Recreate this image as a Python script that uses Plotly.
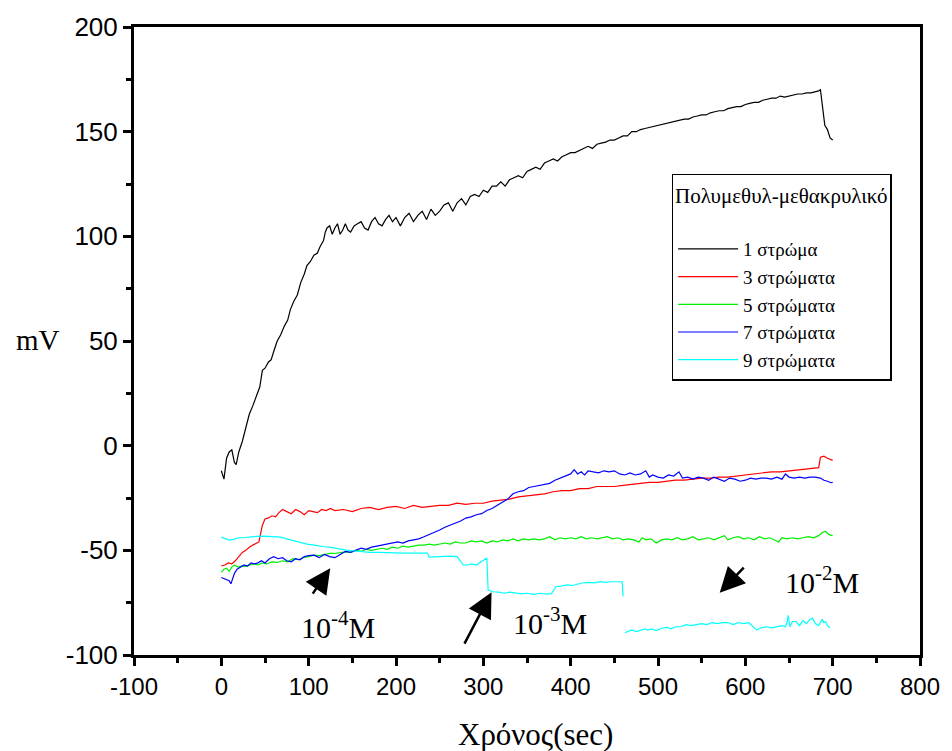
import plotly.graph_objects as go

# ---------------- data ----------------
series_names = ["1 στρώμα", "3 στρώματα", "5 στρώματα", "7 στρώματα", "9 στρώματα"]
series_colors = ["#000000", "#ff0000", "#00ee00", "#0000ff", "#00ffff"]

layer1 = [(0, -12), (3, -16), (6, -6), (9, -3), (12, -2), (15, -8), (17, -9), (20, -3), (24, 2),
          (28, 8), (32, 15), (36, 19), (40, 24), (44, 28), (47, 36), (50, 37), (54, 40), (57, 41),
          (60, 45), (64, 50), (68, 53), (72, 57), (76, 60), (79, 65), (83, 69), (87, 72), (91, 78),
          (95, 82), (98, 86), (102, 88), (106, 91), (110, 92), (113, 95), (117, 98), (119, 102),
          (121, 104), (124, 105), (127, 101), (130, 104), (133, 106), (136, 101), (139, 103),
          (142, 106), (145, 103), (148, 102), (152, 105), (156, 106), (160, 107), (164, 104),
          (168, 103), (172, 107), (176, 109), (180, 106), (184, 105), (188, 108), (192, 110),
          (196, 107), (200, 109), (205, 105), (210, 109), (215, 111), (220, 107), (225, 110),
          (230, 112), (235, 108), (240, 113), (245, 110), (250, 112), (255, 115), (260, 116),
          (265, 112), (270, 116), (275, 118), (280, 115), (285, 119), (290, 120), (295, 119),
          (300, 122), (305, 121), (310, 124), (315, 124), (320, 126), (325, 124), (330, 127),
          (335, 128), (340, 129), (345, 128), (350, 131), (355, 132), (360, 133), (365, 132),
          (370, 135), (375, 136), (380, 137), (385, 136), (390, 138), (395, 139), (400, 140),
          (405, 140), (410, 141), (415, 142), (420, 143), (425, 142), (430, 144), (435, 144.5),
          (440, 145), (445, 146), (450, 146), (455, 147), (460, 148), (465, 148), (470, 150),
          (475, 150), (480, 151), (485, 151.5), (490, 152), (495, 152.5), (500, 153), (505, 153.5),
          (510, 154), (515, 154.5), (520, 155), (525, 155.5), (530, 156), (535, 156), (540, 157),
          (545, 157.5), (550, 158), (555, 158), (560, 159), (565, 159.5), (570, 160), (575, 160),
          (580, 161), (585, 161.5), (590, 162), (595, 162), (600, 163), (605, 163.5), (610, 164),
          (615, 164), (620, 165), (625, 165.5), (630, 166), (635, 166), (640, 167), (645, 166.5),
          (650, 167), (655, 167.5), (660, 168), (665, 168), (670, 168.5), (675, 168.5),
          (680, 169), (684, 169.5), (686, 170), (688, 164), (691, 153), (694, 151), (697, 147),
          (700, 146)]

layer3 = [(0, -57.5), (4, -57), (8, -56), (12, -56.5), (16, -55), (20, -53), (24, -51), (28, -50),
          (32, -48.5), (36, -47.5), (40, -46.5), (43, -46), (45, -42), (47, -38), (50, -35),
          (54, -34.5), (58, -33.5), (62, -34), (66, -32), (70, -30.5), (75, -31.5), (80, -32.5),
          (85, -30.5), (90, -31.5), (95, -33), (100, -31), (105, -31.5), (110, -32), (115, -30.5),
          (120, -31), (125, -30), (130, -31), (140, -30.5), (150, -31.5), (160, -30), (170, -29.5),
          (180, -30.5), (190, -29.5), (200, -29), (210, -30), (220, -28.5), (230, -29.5), (240, -29),
          (250, -28.5), (260, -28.5), (270, -27.5), (280, -28), (290, -27.5), (300, -27.5),
          (310, -26.5), (320, -26), (330, -25.5), (340, -24.5), (350, -24), (360, -23.5), (370, -23),
          (380, -22), (390, -21.5), (400, -21.5), (410, -20.5), (420, -20.5), (430, -19.5),
          (440, -19.5), (450, -19.5), (460, -19), (470, -18.5), (480, -18), (490, -17.5),
          (500, -17.5), (510, -17), (520, -16.5), (530, -16.5), (540, -16), (550, -15.5),
          (560, -15.5), (570, -15), (580, -15), (590, -14.5), (600, -14), (610, -13.5), (620, -13),
          (630, -12.5), (640, -12.5), (650, -12), (660, -11.5), (670, -11), (680, -10.5),
          (684, -10.5), (686, -5.5), (690, -5), (694, -6), (698, -6.5), (700, -7)]

layer5 = [(0, -60.5), (3, -59), (6, -58.5), (9, -60), (12, -58), (15, -57), (19, -58), (23, -57.5),
          (27, -57.8), (32, -57), (37, -56.5), (42, -57), (47, -56), (52, -56.5), (58, -55.5),
          (64, -55.8), (70, -55), (76, -55.5), (82, -54), (88, -54.5), (94, -53.5), (100, -53),
          (106, -52.3), (112, -52.5), (118, -52), (124, -51.5), (130, -51.5), (136, -51),
          (142, -50.7), (148, -51), (154, -50), (160, -50.5), (166, -49.5), (172, -50), (178, -49.5),
          (184, -49), (190, -49.5), (196, -48.5), (202, -49), (208, -48), (214, -48.5), (220, -48),
          (226, -47.5), (232, -47.5), (238, -47), (244, -47.5), (250, -47), (256, -46.5), (262, -47),
          (268, -46), (274, -46.5), (280, -46.5), (286, -45.5), (292, -46), (298, -45.5),
          (304, -46.5), (310, -45.5), (316, -46), (322, -45), (328, -45.5), (334, -44.5),
          (340, -45.5), (346, -44.5), (352, -45), (358, -44.5), (364, -45), (370, -44.5),
          (376, -43.5), (382, -45), (388, -44), (394, -44.5), (400, -44), (406, -44.5),
          (412, -43.5), (418, -44.5), (424, -44), (430, -44.5), (436, -44), (442, -43.5),
          (448, -44.5), (454, -44), (460, -45), (466, -44.5), (472, -45), (478, -46), (482, -44),
          (486, -45), (492, -44.5), (498, -46.5), (504, -45), (510, -44.5), (516, -45), (522, -44),
          (528, -45), (534, -44.5), (540, -43.5), (546, -45), (552, -44.5), (558, -44), (564, -45),
          (570, -44), (576, -43), (580, -45), (586, -44), (592, -43.5), (598, -44.5), (604, -44),
          (610, -45), (616, -43.5), (622, -44.5), (628, -44), (634, -45), (638, -46), (642, -44),
          (648, -44.5), (654, -44), (660, -44.5), (666, -44), (672, -43.5), (678, -44), (684, -43),
          (688, -41.5), (692, -41), (696, -42.5), (700, -43)]

layer7 = [(0, -63), (3, -63.5), (6, -64), (9, -64.5), (11, -66), (13, -63), (15, -61), (18, -59),
          (22, -58), (26, -57), (30, -57.5), (34, -56), (38, -56.5), (42, -56), (46, -55), (50, -56),
          (55, -54), (60, -53), (65, -54), (70, -53.5), (75, -55), (80, -55.5), (85, -54),
          (90, -54.5), (95, -53), (100, -52.5), (106, -52.3), (112, -53.5), (118, -52), (124, -53),
          (130, -53.5), (136, -52), (142, -50.5), (148, -51), (154, -50), (160, -49), (166, -49.5),
          (172, -48.5), (178, -48), (184, -47.5), (190, -47), (196, -46.5), (202, -46),
          (208, -46.5), (214, -45.5), (220, -45), (226, -44.5), (232, -43.5), (238, -42.5),
          (244, -41.5), (250, -40.3), (256, -39), (262, -38), (268, -37), (274, -36), (280, -34.6),
          (286, -34), (292, -33), (298, -32.5), (304, -31), (310, -30), (316, -28.5), (322, -27),
          (328, -25.5), (334, -23), (340, -22), (346, -21.5), (352, -20), (358, -19.5), (364, -19),
          (370, -18.5), (376, -18), (382, -16.5), (388, -15.5), (394, -14.5), (400, -13.5),
          (404, -11.5), (408, -13.5), (412, -12.5), (416, -14), (420, -12), (426, -12.5),
          (432, -13), (438, -12), (444, -12.5), (450, -12), (456, -13.5), (462, -14), (468, -13),
          (474, -14), (480, -13.5), (486, -12), (490, -15), (494, -14), (500, -15), (506, -15.5),
          (512, -14), (518, -14.5), (524, -12.5), (528, -15.5), (534, -15), (540, -16), (546, -15),
          (552, -15.5), (558, -16.5), (564, -15), (570, -16), (576, -17), (582, -15.5), (588, -16),
          (594, -17), (600, -16.5), (606, -15.5), (612, -16), (618, -15.5), (624, -15.5),
          (630, -16), (636, -15), (642, -16), (646, -13.5), (650, -15), (656, -15.5), (662, -15),
          (668, -15.5), (674, -15), (680, -15), (686, -15.5), (690, -16.5), (694, -17),
          (698, -17.7), (700, -17.5)]

layer9 = [(0, -43.7), (4, -44.5), (8, -45), (12, -45), (16, -44.5), (20, -44), (25, -44),
          (30, -43.7), (35, -43.5), (40, -43.3), (47, -43.2), (55, -43.3), (62, -43.5), (68, -43.7),
          (75, -44.5), (80, -45), (86, -45.9), (92, -46.5), (98, -47), (106, -47.5), (112, -48),
          (118, -48.3), (124, -48.5), (130, -49), (136, -49.5), (143, -49.9), (150, -50.2),
          (156, -50.5), (162, -50.7), (170, -51), (180, -51), (190, -51.2), (200, -51.2),
          (210, -51.3), (220, -51.3), (230, -51.3), (236, -51.3), (238, -53.2), (245, -53),
          (255, -53), (262, -52.8), (270, -53), (273, -55), (277, -57), (282, -57), (287, -56.5),
          (292, -57), (297, -55.5), (302, -54), (304, -53.7), (305.5, -69), (311, -69.8),
          (318, -70), (324, -70.5), (330, -70), (337, -70.4), (344, -70.8), (350, -70.5),
          (358, -71), (365, -70.5), (372, -70.9), (378, -70.7), (381, -69), (383, -67.4),
          (390, -67), (396, -66.5), (402, -66.8), (408, -66), (413, -65.6), (420, -65.3),
          (427, -65.5), (434, -65), (440, -65.3), (446, -65), (451, -65), (459, -65), (460, -72),
          (461, None),
          (462, -89.4), (466, -88.5), (470, -88), (475, -88.8), (480, -88), (485, -87.5),
          (488, -88.1), (493, -87.5), (498, -88.3), (504, -87.2), (510, -86.8), (515, -87.5),
          (520, -86.5), (526, -86.5), (532, -85.5), (538, -86), (544, -85.5), (550, -85),
          (556, -85.5), (562, -84.5), (568, -85), (574, -84.5), (580, -84.5), (586, -85.5),
          (592, -84.5), (598, -85), (604, -84.6), (608, -86), (613, -88.1), (618, -87),
          (624, -86.5), (630, -87), (636, -86.5), (642, -86), (646, -86.5), (648, -84), (649, -81),
          (651, -86.5), (654, -84), (658, -84), (662, -86), (666, -83.5), (670, -85), (674, -83),
          (677, -82.4), (680, -85), (684, -86), (688, -83), (690, -84.5), (692, -84), (694, -86),
          (697, -87)]

all_series = [layer1, layer3, layer5, layer7, layer9]

# concentration arrows
conc_labels = ["10<sup>-4</sup>M", "10<sup>-3</sup>M", "10<sup>-2</sup>M"]
arrow_heads = [(124.7, -58.5), (309.4, -70.0), (570.7, -70.3)]
arrow_tails = [(103.5, -71.4), (277.5, -95.3), (599.8, -57.5)]
label_pos = [(134, -85.7), (376, -83.8), (688, -64.2)]

x_ticks = [-100, 0, 100, 200, 300, 400, 500, 600, 700, 800]
x_ticktext = ["-100", "0", "100", "200", "300", "400", "500", "600", "700", "800"]
y_ticks = [-100, -50, 0, 50, 100, 150, 200]
y_ticktext = ["-100", "-50", "0", "50", "100", "150", "200"]

SERIF = "Liberation Serif, Times New Roman, serif"
SANS = "Liberation Sans, Arial, sans-serif"

fig = go.Figure()
for name, color, pts in zip(series_names, series_colors, all_series):
    fig.add_trace(go.Scatter(
        x=[p[0] for p in pts], y=[p[1] for p in pts], mode="lines", name=name,
        line=dict(color=color, width=1.2), connectgaps=False))

for txt, (hx, hy), (tx, ty), (lx, ly) in zip(conc_labels, arrow_heads, arrow_tails, label_pos):
    fig.add_annotation(x=hx, y=hy, ax=tx, ay=ty, xref="x", yref="y", axref="x", ayref="y",
                       text="", showarrow=True, arrowhead=2, arrowsize=2.0, arrowwidth=2.5,
                       arrowcolor="black")
    fig.add_annotation(x=lx, y=ly, xref="x", yref="y", text=txt, showarrow=False,
                       font=dict(family=SERIF, size=30, color="black"))

fig.add_annotation(x=-0.122, y=0.502, xref="paper", yref="paper", text="mV", showarrow=False,
                   xanchor="center", yanchor="middle",
                   font=dict(family=SERIF, size=29, color="black"))
fig.add_annotation(x=0.511, y=-0.127, xref="paper", yref="paper", text="Χρόνος(sec)",
                   showarrow=False, xanchor="center", yanchor="middle",
                   font=dict(family=SERIF, size=31, color="black"))

axis_common = dict(showgrid=False, zeroline=False, showline=True, linecolor="black", linewidth=3,
                   mirror=True, ticks="outside", ticklen=8, tickwidth=2.5, tickcolor="black")
fig.update_xaxes(range=[-100, 800], tickvals=x_ticks, ticktext=x_ticktext,
                 tickfont=dict(family=SANS, size=24, color="black"), ticklabeloverflow="allow",
                 minor=dict(ticks="outside", dtick=50, ticklen=5, tickwidth=2.5, tickcolor="black"),
                 **axis_common)
fig.update_yaxes(range=[-100, 200], tickvals=y_ticks, ticktext=y_ticktext,
                 tickfont=dict(family=SANS, size=26, color="black"),
                 minor=dict(ticks="outside", dtick=25, ticklen=5, tickwidth=2.5, tickcolor="black"),
                 **axis_common)

fig.update_layout(
    width=952, height=751, margin=dict(l=134, r=21, t=27, b=96),
    plot_bgcolor="white", paper_bgcolor="white", showlegend=True,
    legend=dict(x=0.684, y=0.766, xanchor="left", yanchor="top",
                bgcolor="white", bordercolor="black", borderwidth=1.5,
                font=dict(family=SERIF, size=19, color="black"),
                title=dict(text="Πολυμεθυλ-μεθακρυλικό<br><span style='font-size:8px'> </span>",
                           font=dict(family=SERIF, size=21)),
                tracegroupgap=0, itemwidth=60),
)

fig.write_html("out.html")
